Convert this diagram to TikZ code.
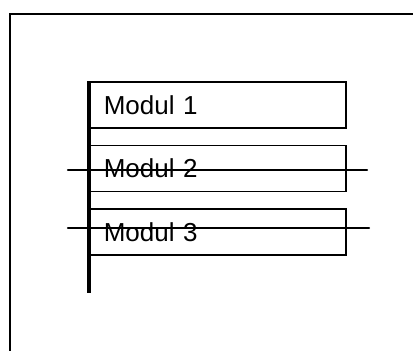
\documentclass[tikz,border=0pt]{standalone}
\usepackage{fontspec}
\setmainfont{Liberation Sans}
\usetikzlibrary{positioning, calc}

\begin{document}
\begin{tikzpicture}[x=1pt, y=-1pt, line width=1.5pt,
    modul/.style={draw, rectangle, minimum width=256pt, minimum height=46pt,
        text width=228pt, align=left, inner xsep=14pt, inner ysep=0pt,
        font=\fontsize{26}{30}\selectfont, anchor=north west},
    bus/.style={line width=3.4pt},
    strike/.style={line width=2.2pt, line cap=round}]
        \useasboundingbox (0,0) rectangle (413,351);

        % Frame
        \draw (10,351) -- (10,14) -- (413,14);

        % Modules
        \node [modul] (m1) at (89,81) {Modul 1};
        \node [modul, below=16pt of m1.south west, anchor=north west] (m2) {Modul 2};
        \node [modul, below=16pt of m2.south west, anchor=north west] (m3) {Modul 3};

        % Bus
        \coordinate (busend) at (89,293);
        \draw [bus] (m1.north west) -- (busend);

        % Crossed out
        \coordinate (s2a) at (68,170);
        \coordinate (s2b) at (367,170);
        \coordinate (s3a) at (68,228);
        \coordinate (s3b) at (369,228);
        \draw [strike] (s2a) -- (s2b);
        \draw [strike] (s3a) -- (s3b);
    \end{tikzpicture}
\end{document}
